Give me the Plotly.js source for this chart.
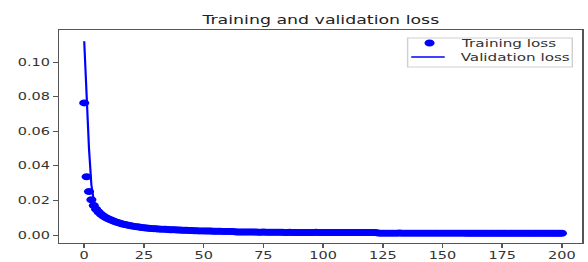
<!DOCTYPE html>
<html>
<head>
<meta charset="utf-8">
<script src="https://cdn.plot.ly/plotly-3.0.1.min.js"></script>
<style>
html,body{margin:0;padding:0;background:#fff;overflow:hidden;}
#wrap{width:588px;height:262px;overflow:hidden;}
#chart{width:406px;height:262px;transform:scaleX(1.4483);transform-origin:0 0;}
</style>
</head>
<body>
<div id="wrap"><div id="chart"></div></div>
<script>
const trainingLoss = [
0.0764,0.0338,0.0252,0.0205,0.0172,0.0150,0.0134,0.0121,0.0111,0.0102,
0.0095,0.0089,0.0083,0.0078,0.0073,0.0069,0.0065,0.0062,0.0059,0.0056,
0.0053,0.0051,0.0049,0.0047,0.0045,0.0043,0.0042,0.0040,0.0039,0.0038,
0.0037,0.0036,0.0035,0.0035,0.0034,0.0033,0.0032,0.0032,0.0031,0.0030,
0.0030,0.0029,0.0028,0.0028,0.0027,0.0027,0.0026,0.0026,0.0025,0.0025,
0.0025,0.0024,0.0024,0.0024,0.0023,0.0023,0.0023,0.0023,0.0022,0.0022,
0.0022,0.0022,0.0021,0.0020,0.0019,0.0019,0.0019,0.0018,0.0018,0.0018,
0.0018,0.0018,0.0018,0.0017,0.0017,0.0018,0.0017,0.0017,0.0017,0.0017,
0.0017,0.0017,0.0017,0.0017,0.0016,0.0016,0.0017,0.0016,0.0016,0.0016,
0.0016,0.0016,0.0016,0.0016,0.0016,0.0016,0.0016,0.0017,0.0016,0.0016,
0.0016,0.0016,0.0016,0.0016,0.0016,0.0016,0.0016,0.0015,0.0015,0.0015,
0.0015,0.0015,0.0015,0.0015,0.0015,0.0015,0.0015,0.0015,0.0015,0.0015,
0.0015,0.0015,0.0015,0.0013,0.0012,0.0012,0.0012,0.0012,0.0012,0.0012,
0.0012,0.0012,0.0013,0.0012,0.0012,0.0012,0.0012,0.0012,0.0012,0.0012,
0.0012,0.0012,0.0012,0.0012,0.0012,0.0012,0.0012,0.0012,0.0012,0.0012,
0.0012,0.0012,0.0012,0.0012,0.0012,0.0012,0.0012,0.0012,0.0012,0.0012,
0.0011,0.0011,0.0011,0.0011,0.0011,0.0011,0.0011,0.0011,0.0011,0.0011,
0.0011,0.0011,0.0011,0.0011,0.0011,0.0011,0.0011,0.0011,0.0011,0.0011,
0.0011,0.0011,0.0011,0.0011,0.0011,0.0011,0.0011,0.0011,0.0011,0.0011,
0.0011,0.0011,0.0011,0.0011,0.0011,0.0011,0.0011,0.0011,0.0011,0.0011,
0.0011
];
const validationLoss = [
0.1120,0.0780,0.0500,0.0290,0.0200,0.0158,0.0138,0.0124,0.0113,0.0104,
0.0096,0.0089,0.0083,0.0078,0.0073,0.0069,0.0065,0.0062,0.0059,0.0056,
0.0053,0.0051,0.0049,0.0047,0.0045,0.0043,0.0042,0.0040,0.0039,0.0038,
0.0037,0.0036,0.0035,0.0034,0.0034,0.0033,0.0032,0.0031,0.0031,0.0030,
0.0029,0.0029,0.0028,0.0028,0.0027,0.0027,0.0026,0.0026,0.0025,0.0025,
0.0024,0.0024,0.0024,0.0023,0.0023,0.0023,0.0023,0.0022,0.0022,0.0022,
0.0022,0.0021,0.0021,0.0020,0.0019,0.0019,0.0018,0.0018,0.0018,0.0018,
0.0018,0.0017,0.0017,0.0017,0.0017,0.0017,0.0017,0.0017,0.0017,0.0017,
0.0017,0.0016,0.0016,0.0016,0.0016,0.0016,0.0016,0.0016,0.0016,0.0016,
0.0016,0.0016,0.0016,0.0016,0.0016,0.0016,0.0016,0.0016,0.0016,0.0016,
0.0015,0.0015,0.0015,0.0015,0.0015,0.0015,0.0015,0.0015,0.0015,0.0015,
0.0015,0.0015,0.0015,0.0015,0.0015,0.0014,0.0014,0.0014,0.0014,0.0014,
0.0014,0.0014,0.0014,0.0013,0.0012,0.0012,0.0012,0.0012,0.0012,0.0012,
0.0012,0.0012,0.0012,0.0012,0.0012,0.0012,0.0012,0.0012,0.0012,0.0012,
0.0012,0.0012,0.0012,0.0012,0.0012,0.0012,0.0012,0.0011,0.0011,0.0011,
0.0011,0.0011,0.0011,0.0011,0.0011,0.0011,0.0011,0.0011,0.0011,0.0011,
0.0011,0.0011,0.0011,0.0011,0.0011,0.0011,0.0011,0.0011,0.0011,0.0011,
0.0011,0.0011,0.0011,0.0011,0.0011,0.0011,0.0011,0.0011,0.0011,0.0011,
0.0010,0.0010,0.0010,0.0010,0.0010,0.0010,0.0010,0.0010,0.0010,0.0010,
0.0010,0.0010,0.0010,0.0010,0.0010,0.0010,0.0010,0.0010,0.0010,0.0010,
0.0010
];
const seriesNames = ['Training loss', 'Validation loss'];
const epochs = trainingLoss.map((_, i) => i);
const xTicks = [0, 25, 50, 75, 100, 125, 150, 175, 200];
const yTicks = [0.00, 0.02, 0.04, 0.06, 0.08, 0.10];

const BLUE = '#0000ff';
const traces = [
  {x: epochs, y: trainingLoss, type: 'scatter', mode: 'markers', name: seriesNames[0],
   marker: {color: BLUE, size: 7}},
  {x: epochs, y: validationLoss, type: 'scatter', mode: 'lines', name: seriesNames[1],
   line: {color: BLUE, width: 1.5}}
];

const axisCommon = {
  showgrid: false, zeroline: false, showline: true, mirror: true,
  linecolor: '#555', linewidth: 1, ticks: 'outside', ticklen: 3.5, tickwidth: 1,
  tickcolor: '#555', tickfont: {family: 'DejaVu Sans', size: 10, color: '#333'}
};

// compact matplotlib-style legend (paper coordinates)
const lg = {x0: 0.666, x1: 0.981, y0: 0.826, y1: 0.962, row1: 0.939, row2: 0.873,
            symX: 0.708, lineX0: 0.673, lineX1: 0.737, textX: 0.762};
const legendShapes = [
  {type: 'rect', xref: 'paper', yref: 'paper', x0: lg.x0, x1: lg.x1, y0: lg.y0, y1: lg.y1,
   line: {color: '#d0d0d0', width: 1}, fillcolor: 'rgba(255,255,255,0.8)'},
  {type: 'circle', xref: 'paper', yref: 'paper', x0: lg.symX - 0.0097, x1: lg.symX + 0.0097,
   y0: lg.row1 - 0.0164, y1: lg.row1 + 0.0164, line: {width: 0}, fillcolor: BLUE},
  {type: 'line', xref: 'paper', yref: 'paper', x0: lg.lineX0, x1: lg.lineX1, y0: lg.row2, y1: lg.row2,
   line: {color: BLUE, width: 1.5}}
];
const legendText = [
  {xref: 'paper', yref: 'paper', x: lg.textX, y: lg.row1, text: seriesNames[0], showarrow: false,
   xanchor: 'left', yanchor: 'middle', font: {family: 'DejaVu Sans', size: 10.5, color: '#333'}},
  {xref: 'paper', yref: 'paper', x: lg.textX, y: lg.row2, text: seriesNames[1], showarrow: false,
   xanchor: 'left', yanchor: 'middle', font: {family: 'DejaVu Sans', size: 10.5, color: '#333'}}
];

const layout = {
  width: 406, height: 262,
  margin: {l: 40.7, r: 3.5, t: 30, b: 19},
  paper_bgcolor: '#fff', plot_bgcolor: '#fff',
  title: {text: 'Training and validation loss', font: {family: 'DejaVu Sans', size: 12, color: '#222'},
          xref: 'paper', x: 0.5, xanchor: 'center', yref: 'container', y: 0.925, yanchor: 'middle'},
  xaxis: Object.assign({}, axisCommon, {range: [-10.4, 208.5], tickvals: xTicks, ticktext: xTicks.map(String)}),
  yaxis: Object.assign({}, axisCommon, {range: [-0.0045, 0.1185], tickvals: yTicks, ticktext: yTicks.map(v => v.toFixed(2))}),
  showlegend: false,
  shapes: legendShapes,
  annotations: legendText
};

Plotly.newPlot('chart', traces, layout, {displayModeBar: false, staticPlot: true});
</script>
</body>
</html>
